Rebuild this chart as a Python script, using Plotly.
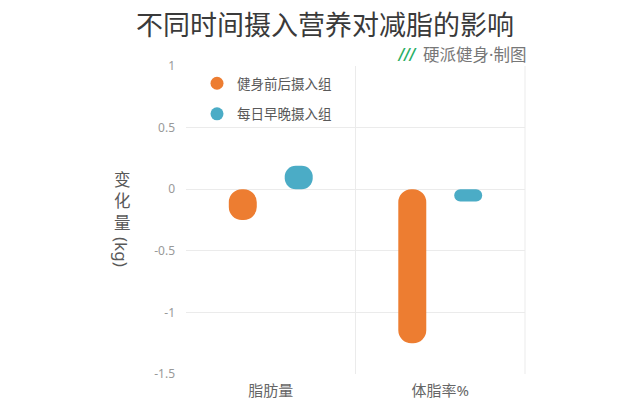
import plotly.graph_objects as go

categories = ["脂肪量", "体脂率%"]
series_names = ["健身前后摄入组", "每日早晚摄入组"]
group_a = [-0.25, -1.25]   # 健身前后摄入组
group_b = [0.19, -0.10]    # 每日早晚摄入组
colors = ["#ED7D31", "#4BACC6"]
y_ticks = [1, 0.5, 0, -0.5, -1, -1.5]
y_tick_labels = ["1", "0.5", "0", "-0.5", "-1", "-1.5"]

FONT = "Noto Sans, Noto Sans CJK SC"
BM = 8  # page body margin offset in the browser

fig = go.Figure()

bar_w = 0.165
offsets = [-0.2475, 0.0825]
for vals, col, off in zip([group_a, group_b], colors, offsets):
    fig.add_trace(go.Bar(x=categories, y=vals, base=[0] * len(vals), width=bar_w, offset=off,
                         marker=dict(color=col, line=dict(width=0), cornerradius="50%"),
                         showlegend=False, hoverinfo="skip"))

for name, col in zip(series_names, colors):
    fig.add_trace(go.Scatter(x=[None], y=[None], mode="markers", name=name,
                             marker=dict(color=col, size=13), legendgroup=name))

# plot area in window pixels: left 186, right 525, top 66, bottom 374
W, H = 640 - BM, 403 - BM
L, T = 186 - BM, 66 - BM
PW, PH = 339, 308

def px(x):
    return (x - 186) / PW

def py(y):
    return (374 - y) / PH

fig.update_layout(
    width=W, height=H,
    margin=dict(l=L, r=W - L - PW, t=T, b=H - T - PH, autoexpand=False),
    paper_bgcolor="white", plot_bgcolor="white",
    barmode="overlay",
    font=dict(family=FONT, color="#666666"),
    title=dict(text="不同时间摄入营养对减脂的影响", x=(325 - BM) / W, xanchor="center",
               y=1 - (26 - BM) / H, yanchor="middle",
               font=dict(family=FONT, size=27, color="#3a3a3a")),
    legend=dict(x=px(197), y=py(68), xanchor="left", yanchor="top",
                bgcolor="rgba(0,0,0,0)", font=dict(size=13.5, color="#595959", family=FONT),
                tracegroupgap=10, itemsizing="trace"),
    xaxis=dict(type="category", tickson="boundaries", showgrid=True, gridcolor="#ebebeb",
               gridwidth=1, showline=False, zeroline=False, ticks="", ticklabelstandoff=6,
               tickfont=dict(size=15, color="#666666", family=FONT), range=[-0.5, 1.5]),
    yaxis=dict(range=[-1.5, 1], tickvals=y_ticks, ticktext=y_tick_labels,
               showgrid=True, gridcolor="#ebebeb", gridwidth=1, zeroline=False,
               showline=False, ticks="", ticklabelstandoff=10,
               tickfont=dict(size=12, color="#999999", family=FONT)),
    showlegend=True,
)

# right border line of plot area
fig.add_shape(type="line", xref="paper", yref="paper", x0=1, x1=1, y0=0, y1=1,
              line=dict(color="#ebebeb", width=1))

# vertical axis title (upright CJK characters stacked, unit rotated)
fig.add_annotation(text="变<br>化<br>量", xref="paper", yref="paper", x=px(122),
                   y=py(201), showarrow=False, xanchor="center", yanchor="middle",
                   font=dict(size=16.5, color="#595959", family=FONT))
fig.add_annotation(text="(kg)", xref="paper", yref="paper", x=px(122),
                   y=py(252), showarrow=False, textangle=90,
                   xanchor="center", yanchor="middle",
                   font=dict(size=17, color="#595959", family=FONT))

# source tag
fig.add_annotation(text="<b><i>///</i></b>", xref="paper", yref="paper",
                   x=px(419), y=py(55), xanchor="right", yanchor="middle",
                   showarrow=False, font=dict(size=15, color="#2BAE66", family="DejaVu Sans"))
fig.add_annotation(text="硬派健身·制图", xref="paper", yref="paper",
                   x=px(528), y=py(55), xanchor="right", yanchor="middle",
                   showarrow=False, font=dict(size=16.5, color="#777777", family=FONT))

fig.write_html("out.html")
